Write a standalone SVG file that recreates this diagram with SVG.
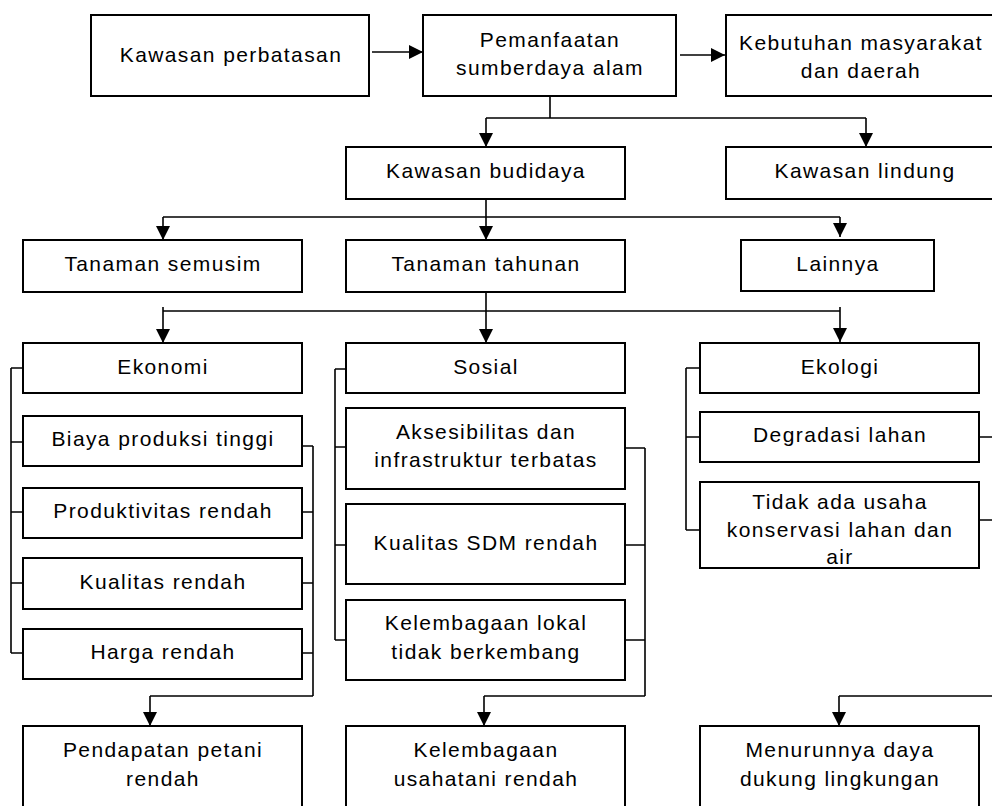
<svg xmlns="http://www.w3.org/2000/svg" width="992" height="806" viewBox="0 0 992 806">
<style>
.box rect{fill:#fff;stroke:#000;stroke-width:2}
.box text{font-family:"Liberation Sans",Arial,sans-serif;font-size:21px;letter-spacing:1.4px;fill:#000;text-anchor:middle}
.con path{fill:none;stroke:#000;stroke-width:1.6}
.con path.a{marker-end:url(#ah)}
</style>
<defs>
<marker id="ah" markerUnits="userSpaceOnUse" markerWidth="14" markerHeight="14" refX="13" refY="6.5" orient="auto" viewBox="0 0 13 13">
<path d="M0,0 L13,6.5 L0,13 z" fill="#000"/>
</marker>
</defs>
<rect width="992" height="806" fill="#fff"/>

<g id="n-perbatasan" class="box"><rect x="91" y="15" width="278" height="81"/><text x="231" y="62">Kawasan perbatasan</text></g>
<g id="n-pemanfaatan" class="box"><rect x="423" y="15" width="253" height="81"/><text x="550" y="47">Pemanfaatan</text><text x="550" y="75">sumberdaya alam</text></g>
<g id="n-kebutuhan" class="box"><rect x="726" y="15" width="279" height="81"/><text x="861" y="50">Kebutuhan masyarakat</text><text x="861" y="78">dan daerah</text></g>

<g id="n-budidaya" class="box"><rect x="346" y="147" width="279" height="52"/><text x="486" y="178">Kawasan budidaya</text></g>
<g id="n-lindung" class="box"><rect x="726" y="147" width="279" height="52"/><text x="865" y="178">Kawasan lindung</text></g>

<g id="n-semusim" class="box"><rect x="23" y="240" width="279" height="52"/><text x="163" y="271">Tanaman semusim</text></g>
<g id="n-tahunan" class="box"><rect x="346" y="240" width="279" height="52"/><text x="486" y="271">Tanaman tahunan</text></g>
<g id="n-lainnya" class="box"><rect x="741" y="240" width="193" height="51"/><text x="838" y="271">Lainnya</text></g>

<g id="n-ekonomi" class="box"><rect x="23" y="343" width="279" height="50"/><text x="163" y="374">Ekonomi</text></g>
<g id="n-biaya" class="box"><rect x="23" y="416" width="279" height="50"/><text x="163" y="446">Biaya produksi tinggi</text></g>
<g id="n-produktivitas" class="box"><rect x="23" y="488" width="279" height="50"/><text x="163" y="518">Produktivitas rendah</text></g>
<g id="n-kualitas" class="box"><rect x="23" y="558" width="279" height="51"/><text x="163" y="589">Kualitas rendah</text></g>
<g id="n-harga" class="box"><rect x="23" y="629" width="279" height="50"/><text x="163" y="659">Harga rendah</text></g>

<g id="n-sosial" class="box"><rect x="346" y="343" width="279" height="50"/><text x="486" y="374">Sosial</text></g>
<g id="n-aksesibilitas" class="box"><rect x="346" y="408" width="279" height="81"/><text x="486" y="439">Aksesibilitas dan</text><text x="486" y="467">infrastruktur terbatas</text></g>
<g id="n-sdm" class="box"><rect x="346" y="504" width="279" height="80"/><text x="486" y="550">Kualitas SDM rendah</text></g>
<g id="n-kelembagaan-lokal" class="box"><rect x="346" y="600" width="279" height="80"/><text x="486" y="630">Kelembagaan lokal</text><text x="486" y="659">tidak berkembang</text></g>

<g id="n-ekologi" class="box"><rect x="700" y="343" width="279" height="50"/><text x="840" y="374">Ekologi</text></g>
<g id="n-degradasi" class="box"><rect x="700" y="412" width="279" height="50"/><text x="840" y="442">Degradasi lahan</text></g>
<g id="n-konservasi" class="box"><rect x="700" y="482" width="279" height="86"/><text x="840" y="509">Tidak ada usaha</text><text x="840" y="537">konservasi lahan dan</text><text x="840" y="564">air</text></g>

<g id="n-pendapatan" class="box"><rect x="23" y="726" width="279" height="81"/><text x="163" y="757">Pendapatan petani</text><text x="163" y="786">rendah</text></g>
<g id="n-kelembagaan-usahatani" class="box"><rect x="346" y="726" width="279" height="81"/><text x="486" y="757">Kelembagaan</text><text x="486" y="786">usahatani rendah</text></g>
<g id="n-menurunnya" class="box"><rect x="700" y="726" width="279" height="81"/><text x="840" y="757">Menurunnya daya</text><text x="840" y="786">dukung lingkungan</text></g>

<g id="connectors" class="con">
<path class="a" d="M372,52 H423"/>
<path class="a" d="M680,55 H725"/>
<path d="M550,96 V118 M486,118 H866"/>
<path class="a" d="M486,118 V147"/>
<path class="a" d="M866,118 V147"/>
<path d="M486,199 V217 M163,217 H840"/>
<path class="a" d="M163,217 V240"/>
<path class="a" d="M486,217 V240"/>
<path class="a" d="M840,217 V237"/>
<path d="M486,292 V311 M163,311 H840"/>
<path class="a" d="M163,307 V343"/>
<path class="a" d="M486,311 V343"/>
<path class="a" d="M840,307 V342"/>
<path d="M11,368 V653 M11,368 H23 M11,442 H23 M11,512 H23 M11,583 H23 M11,653 H23"/>
<path d="M313,446 V696 M302,446 H313 M302,512 H313 M302,583 H313 M302,653 H313 M313,696 H150"/>
<path class="a" d="M150,696 V726"/>
<path d="M335,369 V640 M335,369 H346 M335,447 H346 M335,545 H346 M335,640 H346"/>
<path d="M645,448 V696 M625,448 H645 M625,545 H645 M625,640 H645 M645,696 H484"/>
<path class="a" d="M484,696 V726"/>
<path d="M686,368 V530 M686,368 H700 M686,437 H700 M686,530 H700"/>
<path d="M1000,437 V696 M979,437 H1000 M979,520 H1000 M1000,696 H839"/>
<path class="a" d="M839,696 V726"/>
</g>
</svg>
